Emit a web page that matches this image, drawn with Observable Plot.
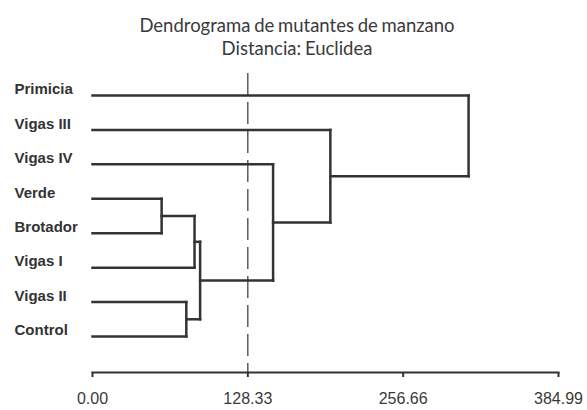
<!DOCTYPE html>
<html>
<head>
<meta charset="utf-8">
<script src="https://cdn.jsdelivr.net/npm/d3@7"></script>
<script src="https://cdn.jsdelivr.net/npm/@observablehq/plot@0.6"></script>
<style>
  html, body { margin: 0; padding: 0; background: #fff; }
  #wrap { width: 587px; height: 410px; position: relative; overflow: hidden; }
  #head { position: relative; height: 62px; width: 587px; font-family: Lato, "Open Sans", sans-serif; color: #3a3a3a; }
  #head div { position: absolute; left: 0; width: 594px; text-align: center; font-size: 18.5px; line-height: 18px; word-spacing: -1px; }
  #t1 { top: 16px; }
  #t2 { top: 39px; }
  svg { display: block; }
  svg text { font-family: "Liberation Sans", Arial, sans-serif; }
</style>
</head>
<body>
<div id="wrap">
  <div id="head">
    <div id="t1">Dendrograma de mutantes de manzano</div>
    <div id="t2">Distancia: Euclidea</div>
  </div>
  <div id="chart"></div>
</div>
<script>
// Leaves, top to bottom
const leaves = ["Primicia", "Vigas III", "Vigas IV", "Verde", "Brotador", "Vigas I", "Vigas II", "Control"];
// Merges in order; each creates group G1..G7
const joinA = ["Verde", "Vigas II", "Vigas I", "G3", "Vigas IV", "Vigas III", "Primicia"];
const joinB = ["Brotador", "Control", "G1", "G2", "G4", "G5", "G6"];
const joinHeight = [57.1, 77.5, 84.3, 88.9, 149.2, 196.5, 310.7];
// Axis
const xTicks = [0, 128.33, 256.66, 384.99];
const cutDistance = 128.33;

// Build dendrogram segments
const nodes = new Map(leaves.map((d, i) => [d, {x: 0, y: i}]));
const segs = [];
joinHeight.forEach((h, i) => {
  const a = nodes.get(joinA[i]), b = nodes.get(joinB[i]);
  segs.push({x1: a.x, y1: a.y, x2: h, y2: a.y});
  segs.push({x1: b.x, y1: b.y, x2: h, y2: b.y});
  segs.push({x1: h, y1: a.y, x2: h, y2: b.y});
  nodes.set("G" + (i + 1), {x: h, y: (a.y + b.y) / 2});
});

const FONT = "'Liberation Sans', Arial, sans-serif";
const chart = Plot.plot({
  width: 587,
  height: 348,
  marginLeft: 92,
  marginRight: 29,
  marginTop: 11,
  marginBottom: 38,
  x: {domain: [0, 384.99]},
  y: {domain: [0, leaves.length - 1], range: [33, 274], axis: null},
  style: {fontFamily: FONT, color: "#333", background: "#fff"},
  marks: [
    Plot.ruleX([cutDistance], {stroke: "#333", strokeWidth: 1.2, strokeDasharray: "22,7"}),
    Plot.frame({anchor: "bottom", stroke: "#333", strokeWidth: 2}),
    Plot.axisX({ticks: xTicks, tickFormat: d => d.toFixed(2), tickSize: 5, tickPadding: 15, fontSize: 16, fontFamily: FONT, strokeWidth: 2, stroke: "#333", fill: "#3a3a3a"}),
    Plot.link(segs, {x1: "x1", y1: "y1", x2: "x2", y2: "y2", stroke: "#333", strokeWidth: 2.5, strokeLinecap: "square"}),
    Plot.text(leaves, {x: 0, y: (d, i) => i, text: d => d, textAnchor: "start", dx: -78, dy: -6, fontSize: 15, fontFamily: FONT, fontWeight: "bold", fill: "#333", letterSpacing: "-0.6px"})
  ]
});
document.getElementById("chart").appendChild(chart);
</script>
</body>
</html>
